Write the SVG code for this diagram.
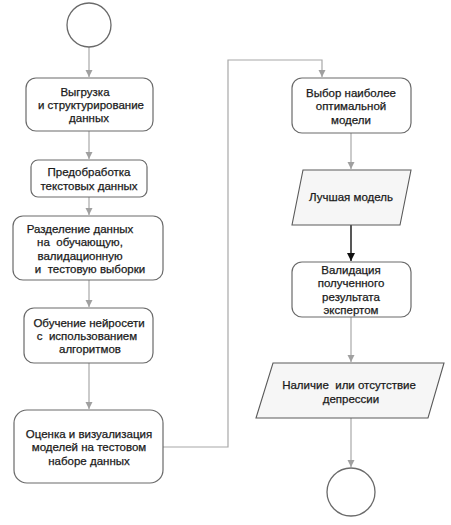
<svg xmlns="http://www.w3.org/2000/svg" width="451" height="525" viewBox="0 0 451 525">
<style>
.box{fill:#ffffff;stroke:#6a6a6a;stroke-width:1.2}
.io{fill:#f6f6f6;stroke:#5a5a5a;stroke-width:1.1}
.term{fill:#ffffff;stroke:#6a6a6a;stroke-width:1.3}
.t{font-family:"Liberation Sans",Arial,sans-serif;font-size:11.5px;fill:#1a1a1a;stroke:#1a1a1a;stroke-width:0.25;text-anchor:middle;white-space:pre}
.c{fill:none;stroke:#a8a8a8;stroke-width:1.2}
.cb{fill:none;stroke:#111111;stroke-width:1.4}
</style>
<defs>
<marker id="ag" markerWidth="8" markerHeight="8" refX="7" refY="4" orient="auto" markerUnits="userSpaceOnUse">
<path d="M0,0.5 L7,4 L0,7.5 Z" fill="#a0a0a0"/>
</marker>
<marker id="ab" markerWidth="9" markerHeight="9" refX="8" refY="4.5" orient="auto" markerUnits="userSpaceOnUse">
<path d="M0,0.5 L8,4.5 L0,8.5 Z" fill="#111111"/>
</marker>
</defs>
<rect width="451" height="525" fill="#ffffff"/>
<g id="connectors">
<path class="c" d="M89,47 V77" marker-end="url(#ag)"/>
<path class="c" d="M89,131 V159" marker-end="url(#ag)"/>
<path class="c" d="M89,197 V215" marker-end="url(#ag)"/>
<path class="c" d="M89,280 V307" marker-end="url(#ag)"/>
<path class="c" d="M89,363 V409" marker-end="url(#ag)"/>
<path class="c" d="M163,447 H228 V60 H322 V77" marker-end="url(#ag)"/>
<path class="c" d="M351,133 V169" marker-end="url(#ag)"/>
<path class="cb" d="M351,225 V261" marker-end="url(#ab)"/>
<path class="c" d="M351,317 V362" marker-end="url(#ag)"/>
<path class="c" d="M351,418 V467" marker-end="url(#ag)"/>
</g>
<g id="start">
<circle class="term" cx="89" cy="25" r="22"/>
</g>
<g id="n1">
<rect class="box" x="26" y="78" width="127" height="53" rx="10"/>
<text class="t" x="85" y="96">Выгрузка</text>
<text class="t" x="91" y="109">и структурирование</text>
<text class="t" x="89" y="122">данных</text>
</g>
<g id="n2">
<rect class="box" x="31" y="160" width="116" height="37" rx="7"/>
<text class="t" x="89" y="176">Предобработка</text>
<text class="t" x="89" y="190">текстовых данных</text>
</g>
<g id="n3">
<rect class="box" x="13" y="216" width="150" height="64" rx="10"/>
<text class="t" x="80" y="233">Разделение данных</text>
<text class="t" x="80" y="246" xml:space="preserve">на  обучающую,</text>
<text class="t" x="80" y="260">валидационную</text>
<text class="t" x="90" y="273" xml:space="preserve">и  тестовую выборки</text>
</g>
<g id="n4">
<rect class="box" x="24" y="308" width="129" height="55" rx="10"/>
<text class="t" x="89" y="327">Обучение нейросети</text>
<text class="t" x="87" y="340" xml:space="preserve">с  использованием</text>
<text class="t" x="90" y="353">алгоритмов</text>
</g>
<g id="n5">
<rect class="box" x="14" y="410" width="149" height="73" rx="13"/>
<text class="t" x="89" y="438">Оценка и визуализация</text>
<text class="t" x="89" y="451">моделей на тестовом</text>
<text class="t" x="89" y="465">наборе данных</text>
</g>
<g id="n6">
<rect class="box" x="292" y="78" width="119" height="55" rx="10"/>
<text class="t" x="351" y="97">Выбор наиболее</text>
<text class="t" x="351" y="110">оптимальной</text>
<text class="t" x="351" y="124">модели</text>
</g>
<g id="n7">
<polygon class="io" points="303,170 411,170 400,225 292,225"/>
<text class="t" x="351" y="201">Лучшая модель</text>
</g>
<g id="n8">
<rect class="box" x="292" y="262" width="119" height="55" rx="10"/>
<text class="t" x="351" y="274">Валидация</text>
<text class="t" x="351" y="287">полученного</text>
<text class="t" x="351" y="301">результата</text>
<text class="t" x="351" y="314">экспертом</text>
</g>
<g id="n9">
<polygon class="io" points="273,363 444,363 428,418 256,418"/>
<text class="t" x="349" y="389" xml:space="preserve">Наличие  или отсутствие</text>
<text class="t" x="351" y="403">депрессии</text>
</g>
<g id="end">
<circle class="term" cx="351" cy="492" r="24"/>
</g>
</svg>
